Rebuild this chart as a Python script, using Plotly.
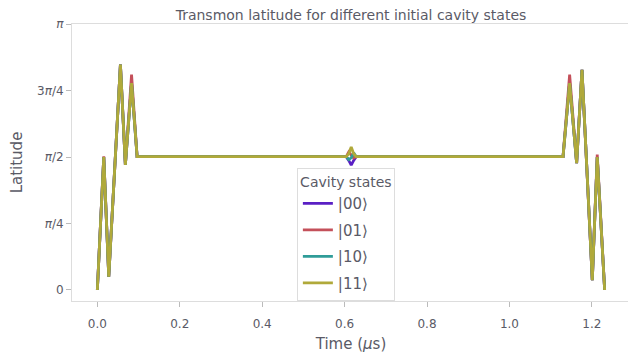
import numpy as np
import plotly.graph_objects as go

PI = np.pi

# Time samples (μs)
time_us = [0.0, 0.0156, 0.0277, 0.042, 0.056, 0.068, 0.083, 0.0965,
           0.604, 0.610, 0.616, 0.622, 0.628,
           1.130, 1.146, 1.163, 1.176, 1.189, 1.201, 1.213, 1.231]

# Latitude values (radians)
lat_00 = [0.0, 1.571, 0.157, 1.414, 2.661, 1.477, 2.444, 1.575,
          1.575, 1.530, 1.475, 1.530, 1.575,
          1.575, 2.444, 1.499, 2.601, 1.319, 0.116, 1.571, 0.0]
lat_01 = [0.0, 1.580, 0.157, 1.414, 2.661, 1.477, 2.545, 1.575,
          1.575, 1.630, 1.600, 1.560, 1.575,
          1.575, 2.545, 1.499, 2.601, 1.319, 0.116, 1.600, 0.0]
lat_10 = [0.0, 1.571, 0.157, 1.414, 2.661, 1.477, 2.444, 1.575,
          1.575, 1.540, 1.560, 1.620, 1.575,
          1.575, 2.444, 1.499, 2.601, 1.319, 0.116, 1.571, 0.0]
lat_11 = [0.0, 1.571, 0.157, 1.414, 2.661, 1.477, 2.444, 1.575,
          1.575, 1.610, 1.690, 1.610, 1.575,
          1.575, 2.444, 1.499, 2.601, 1.319, 0.116, 1.571, 0.0]

series_names = ["|00⟩", "|01⟩", "|10⟩", "|11⟩"]
series_values = [lat_00, lat_01, lat_10, lat_11]
series_colors = ["#5a1fc4", "#c4505a", "#2f9c98", "#b0a93a"]

y_tickvals = [0, PI / 4, PI / 2, 3 * PI / 4, PI]
y_ticktext = ["0", "<i>π</i>/4", "<i>π</i>/2", "3<i>π</i>/4", "<i>π</i>"]
x_tickvals = [0.0, 0.2, 0.4, 0.6, 0.8, 1.0, 1.2]

fig = go.Figure()
for name, vals, col in zip(series_names, series_values, series_colors):
    fig.add_trace(go.Scatter(x=time_us, y=vals, mode="lines", name=name,
                             legendgroup=name,
                             line=dict(color=col, width=2.8)))

txt = "#5a5a66"
fig.update_layout(
    width=628, height=353,
    margin=dict(l=64, r=6, t=16, b=60),
    paper_bgcolor="white", plot_bgcolor="white",
    font=dict(family="DejaVu Sans", size=12, color=txt),
    title=dict(text="Transmon latitude for different initial cavity states",
               x=0.5, xref="paper", y=0.994, yanchor="top",
               font=dict(size=14, color=txt)),
    showlegend=True,
    legend=dict(title=dict(text="Cavity states", font=dict(size=14, color=txt), side="top center"),
                font=dict(size=15, color=txt),
                x=0.403, xanchor="left", y=0.0, yanchor="bottom",
                bordercolor="#dddddd", borderwidth=1, bgcolor="white",
                itemwidth=30, tracegroupgap=4),
)
fig.update_xaxes(range=[-0.0615, 1.2925], tickvals=x_tickvals, tickformat=".1f",
                 automargin=False,
                 showgrid=False, zeroline=False, showline=True, mirror=True,
                 linecolor="#dddddd", linewidth=1,
                 ticks="outside", ticklen=5, tickcolor="#bbbbbb",
                 ticklabelstandoff=7,
                 tickfont=dict(size=12, color=txt),
                 title=dict(text="Time (<i>μ</i>s)", font=dict(size=15, color=txt), standoff=8))
fig.update_yaxes(range=[-0.13, PI], tickvals=y_tickvals, ticktext=y_ticktext,
                 automargin=False,
                 showgrid=False, zeroline=False, showline=True, mirror=True,
                 linecolor="#dddddd", linewidth=1,
                 ticks="outside", ticklen=5, tickcolor="#bbbbbb",
                 tickfont=dict(size=12, color=txt),
                 title=dict(text="Latitude", font=dict(size=15, color=txt), standoff=14))

fig.write_html("out.html")
